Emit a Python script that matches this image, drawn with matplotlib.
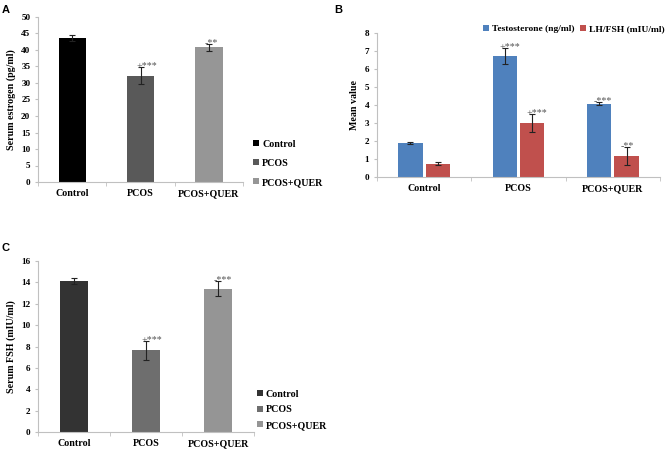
# import libraries
import numpy as np
import matplotlib.pyplot as plt

# data
groups = ['Control', 'PCOS', 'PCOS+QUER']

estrogen = [43.6, 32.2, 40.8]
estrogen_err = [0.8, 2.5, 1.0]
estrogen_sig = ['', '+***', '-**']

testosterone = [1.9, 6.7, 4.07]
testosterone_err = [0.04, 0.45, 0.08]
testosterone_sig = ['', '+***', '-***']
lh_fsh = [0.75, 3.0, 1.15]
lh_fsh_err = [0.1, 0.48, 0.5]
lh_fsh_sig = ['', '+***', '-**']

fsh = [14.15, 7.65, 13.4]
fsh_err = [0.3, 0.9, 0.7]
fsh_sig = ['', '+***', '-***']

W, H = 671, 450
serif = 'Liberation Serif'
axis_col = '#c0c0c0'


def px_axes(fig, left, right, top, bottom):
    """add axes from pixel edges (origin at top left)"""
    return fig.add_axes([left / W, 1 - bottom / H, (right - left) / W,
                         (bottom - top) / H])


def style_axes(ax, ymax, ystep, ylabel):
    for s in ['top', 'right']:
        ax.spines[s].set_visible(False)
    for s in ['left', 'bottom']:
        ax.spines[s].set_color(axis_col)
        ax.spines[s].set_linewidth(0.8)
    ax.set_ylim(0, ymax)
    ax.set_yticks(np.arange(0, ymax + ystep / 2, ystep))
    ax.set_xlim(-0.5, len(groups) - 0.5)
    ax.set_xticks(np.arange(len(groups)))
    ax.set_xticklabels(groups, fontfamily=serif, fontweight='bold',
                       fontsize=7.2)
    ax.tick_params(axis='x', length=0, pad=5)
    ax.tick_params(axis='y', length=2.5, color=axis_col, pad=3,
                   labelsize=6.6)
    for lab in ax.get_yticklabels():
        lab.set_fontfamily(serif)
        lab.set_fontweight('bold')
    # boundary ticks between categories
    ax.set_xticks(np.arange(len(groups) + 1) - 0.5, minor=True)
    ax.tick_params(axis='x', which='minor', length=3, color=axis_col)
    ax.set_ylabel(ylabel, fontfamily=serif, fontweight='bold', fontsize=7.2,
                  labelpad=4)


def add_sig(ax, xs, tops, labels, dy):
    for x, t, lab in zip(xs, tops, labels):
        if lab:
            ax.text(x - 0.06, t + dy, lab, ha='left', va='bottom',
                    fontsize=7.2, color='#555555', fontfamily=serif)


fig = plt.figure(figsize=(W / 100, H / 100), dpi=100)

err_kw = dict(ecolor='#222222', elinewidth=0.8, capsize=2.2, capthick=0.8)
x = np.arange(len(groups))
leg_prop = {'family': serif, 'weight': 'bold', 'size': 7.2}

# panel A
axA = px_axes(fig, 38, 243, 17, 182)
colsA = ['#000000', '#595959', '#969696']
barsA = axA.bar(x, estrogen, width=0.4, color=colsA, yerr=estrogen_err,
                error_kw=err_kw)
style_axes(axA, 50, 5, 'Serum estrogen (pg/ml)')
add_sig(axA, x, np.add(estrogen, estrogen_err), estrogen_sig, -0.9)
axA.legend(barsA, groups, loc='upper left', bbox_to_anchor=(1.03, 0.28),
           frameon=False, prop=leg_prop,
           handlelength=0.6, handleheight=0.6, handletextpad=0.3,
           labelspacing=1.0, borderaxespad=0)
fig.text(2 / W, 1 - 10 / H, 'A', fontfamily='Liberation Sans',
         fontweight='bold', fontsize=8, va='center')

# panel B
axB = px_axes(fig, 377, 660, 33, 177)
bw = 0.26
b1 = axB.bar(x - 0.145, testosterone, width=bw, color='#4f81bd',
             yerr=testosterone_err, error_kw=err_kw,
             label='Testosterone (ng/ml)')
b2 = axB.bar(x + 0.145, lh_fsh, width=bw, color='#c0504d',
             yerr=lh_fsh_err, error_kw=err_kw, label='LH/FSH (mIU/ml)')
style_axes(axB, 8, 1, 'Mean value')
add_sig(axB, x - 0.145, np.add(testosterone, testosterone_err),
        testosterone_sig, -0.15)
add_sig(axB, x + 0.145, np.add(lh_fsh, lh_fsh_err), lh_fsh_sig, -0.15)
axB.legend(handles=[b1, b2], loc='upper right', ncol=2,
           bbox_to_anchor=((668 - 377) / (660 - 377), 1 + 12 / 144),
           frameon=False, prop={'family': serif, 'weight': 'bold',
                                'size': 6.8},
           handlelength=0.6, handleheight=0.6, handletextpad=0.3,
           columnspacing=0.6, borderaxespad=0)
fig.text(334 / W, 1 - 10 / H, 'B', fontfamily='Liberation Sans',
         fontweight='bold', fontsize=8, va='center')

# panel C
axC = px_axes(fig, 38, 254, 261, 432)
colsC = ['#333333', '#6e6e6e', '#959595']
barsC = axC.bar(x, fsh, width=0.4, color=colsC, yerr=fsh_err,
                error_kw=err_kw)
style_axes(axC, 16, 2, 'Serum FSH (mIU/ml)')
add_sig(axC, x, np.add(fsh, fsh_err), fsh_sig, -0.3)
axC.legend(barsC, groups, loc='upper left',
           bbox_to_anchor=((253 - 38) / (254 - 38), 0.27),
           frameon=False, prop=leg_prop,
           handlelength=0.6, handleheight=0.6, handletextpad=0.3,
           labelspacing=0.65, borderaxespad=0)
fig.text(2 / W, 1 - 248 / H, 'C', fontfamily='Liberation Sans',
         fontweight='bold', fontsize=8, va='center')

plt.savefig('out.png', dpi=100)
